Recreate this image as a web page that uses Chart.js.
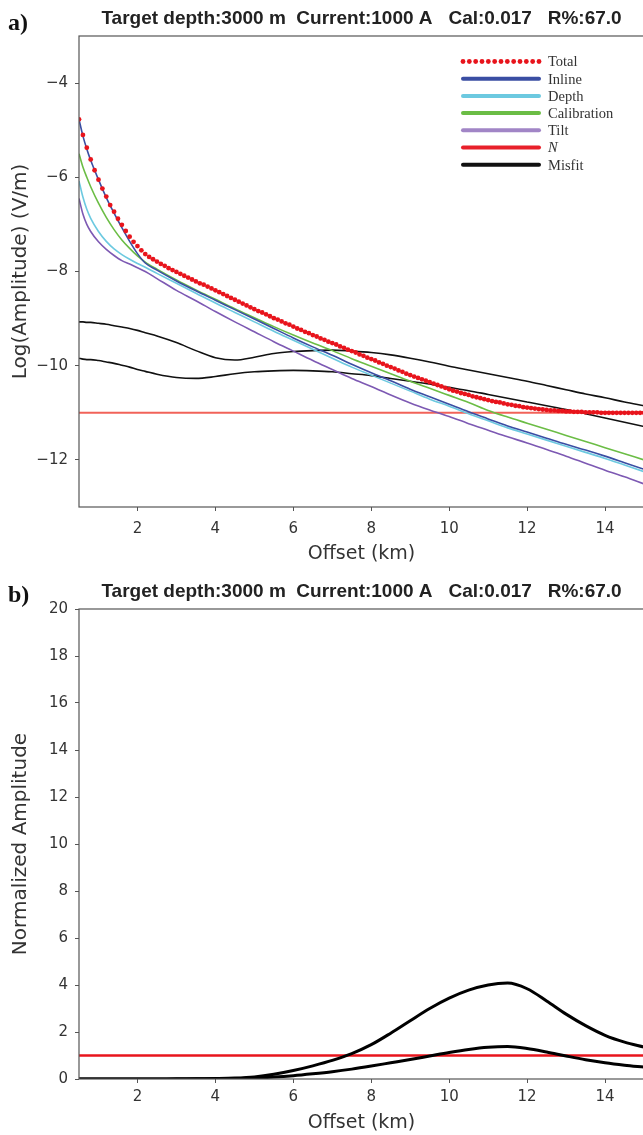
<!DOCTYPE html>
<html>
<head>
<meta charset="utf-8">
<script src="https://cdn.jsdelivr.net/npm/chart.js@4.4.0/dist/chart.umd.min.js"></script>
<style>
  html, body { margin: 0; padding: 0; background: #fff; }
  body { width: 643px; height: 1135px; overflow: hidden; position: relative; }
  .panel { position: absolute; left: 0; }
  .tag { position: absolute; left: 8px; font: bold 24px/24px "Liberation Serif", serif; color: #111; }
</style>
</head>
<body>
<div class="panel" style="top:0"><canvas id="chartA" width="660" height="580"></canvas></div>
<div class="tag" style="top:10px">a)</div>
<div class="panel" style="top:580px"><canvas id="chartB" width="660" height="555"></canvas></div>
<div class="tag" style="top:582px">b)</div>
<script>
// titre commun
var heading = 'Target depth:3000 m  Current:1000 A   Cal:0.017   R%:67.0';

// grafico a) - log amplitude
var offsets = [0.5, 0.6, 0.7, 0.8, 1.0, 1.2, 1.4, 1.6, 1.8, 2.0, 2.2, 2.5, 3.0, 3.5, 4.0, 4.5, 5.0, 5.5, 6.0, 6.5,
  7.0, 7.5, 8.0, 8.5, 9.0, 9.5, 10.0, 10.5, 11.0, 11.5, 12.0, 12.5, 13.0, 13.5, 14.0, 14.5, 15.0];
var inline = [-4.77, -5.12, -5.40, -5.64, -6.05, -6.43, -6.76, -7.07, -7.36, -7.62, -7.82, -7.97, -8.20, -8.41, -8.61, -8.81, -9.01, -9.21, -9.41, -9.60,
  -9.78, -9.97, -10.15, -10.32, -10.50, -10.66, -10.82, -10.98, -11.13, -11.28, -11.41, -11.54, -11.67, -11.79, -11.92, -12.06, -12.20];
var depth = [-6.08, -6.42, -6.68, -6.87, -7.15, -7.36, -7.52, -7.64, -7.74, -7.83, -7.91, -8.04, -8.25, -8.46, -8.67, -8.87, -9.07, -9.27, -9.46, -9.65,
  -9.84, -10.03, -10.20, -10.37, -10.54, -10.71, -10.86, -11.02, -11.17, -11.32, -11.45, -11.58, -11.71, -11.84, -11.97, -12.11, -12.25];
var calibration = [-5.50, -5.78, -6.00, -6.20, -6.55, -6.85, -7.11, -7.33, -7.51, -7.67, -7.80, -7.95, -8.18, -8.39, -8.59, -8.79, -8.98, -9.17, -9.35, -9.52,
  -9.68, -9.85, -10.01, -10.17, -10.33, -10.48, -10.63, -10.78, -10.95, -11.09, -11.22, -11.35, -11.48, -11.61, -11.74, -11.87, -12.00];
var tilt = [-6.45, -6.78, -7.00, -7.15, -7.37, -7.53, -7.66, -7.77, -7.84, -7.92, -8.00, -8.15, -8.40, -8.62, -8.85, -9.07, -9.28, -9.49, -9.69, -9.89,
  -10.08, -10.27, -10.44, -10.62, -10.79, -10.94, -11.08, -11.23, -11.37, -11.51, -11.64, -11.78, -11.92, -12.07, -12.22, -12.36, -12.51];
var misfitUpper = [-9.07, -9.07, -9.08, -9.08, -9.10, -9.12, -9.15, -9.18, -9.21, -9.25, -9.30, -9.37, -9.51, -9.68, -9.83, -9.88, -9.82, -9.74, -9.70, -9.68,
  -9.67, -9.69, -9.72, -9.77, -9.84, -9.92, -10.01, -10.09, -10.17, -10.25, -10.33, -10.42, -10.51, -10.60, -10.68, -10.77, -10.85];
var misfitLower = [-9.84, -9.86, -9.87, -9.87, -9.89, -9.92, -9.95, -9.99, -10.03, -10.08, -10.12, -10.18, -10.25, -10.27, -10.23, -10.17, -10.13, -10.11, -10.10, -10.11,
  -10.13, -10.17, -10.21, -10.27, -10.33, -10.39, -10.46, -10.53, -10.61, -10.69, -10.77, -10.85, -10.93, -11.02, -11.11, -11.20, -11.29];
var noiseOffsets = [0.5, 15.0];
var noiseLevel = [-11, -11];

var totalOffsets = [
  0.5, 0.6, 0.7, 0.8, 0.9, 1.0, 1.1, 1.2, 1.3, 1.4, 1.5, 1.6, 1.7, 1.8, 1.9, 2.0, 2.1, 2.2, 2.3, 2.4,
  2.5, 2.6, 2.7, 2.8, 2.9, 3.0, 3.1, 3.2, 3.3, 3.4, 3.5, 3.6, 3.7, 3.8, 3.9, 4.0, 4.1, 4.2, 4.3, 4.4,
  4.5, 4.6, 4.7, 4.8, 4.9, 5.0, 5.1, 5.2, 5.3, 5.4, 5.5, 5.6, 5.7, 5.8, 5.9, 6.0, 6.1, 6.2, 6.3, 6.4,
  6.5, 6.6, 6.7, 6.8, 6.9, 7.0, 7.1, 7.2, 7.3, 7.4, 7.5, 7.6, 7.7, 7.8, 7.9, 8.0, 8.1, 8.2, 8.3, 8.4,
  8.5, 8.6, 8.7, 8.8, 8.9, 9.0, 9.1, 9.2, 9.3, 9.4, 9.5, 9.6, 9.7, 9.8, 9.9, 10.0, 10.1, 10.2, 10.3, 10.4,
  10.5, 10.6, 10.7, 10.8, 10.9, 11.0, 11.1, 11.2, 11.3, 11.4, 11.5, 11.6, 11.7, 11.8, 11.9, 12.0, 12.1, 12.2, 12.3, 12.4,
  12.5, 12.6, 12.7, 12.8, 12.9, 13.0, 13.1, 13.2, 13.3, 13.4, 13.5, 13.6, 13.7, 13.8, 13.9, 14.0, 14.1, 14.2, 14.3, 14.4,
  14.5, 14.6, 14.7, 14.8, 14.9, 15.0];
var total = [
  -4.77, -5.10, -5.37, -5.62, -5.85, -6.05, -6.24, -6.41, -6.59, -6.73, -6.88, -7.01, -7.14, -7.26, -7.37, -7.46, -7.55, -7.63, -7.69, -7.74,
  -7.79, -7.84, -7.88, -7.93, -7.97, -8.01, -8.05, -8.09, -8.13, -8.17, -8.21, -8.25, -8.28, -8.32, -8.36, -8.40, -8.44, -8.48, -8.52, -8.56,
  -8.60, -8.64, -8.68, -8.72, -8.76, -8.80, -8.84, -8.87, -8.91, -8.95, -8.99, -9.02, -9.06, -9.10, -9.13, -9.17, -9.21, -9.24, -9.28, -9.31,
  -9.35, -9.38, -9.42, -9.45, -9.49, -9.52, -9.55, -9.59, -9.62, -9.66, -9.69, -9.72, -9.76, -9.79, -9.83, -9.86, -9.89, -9.93, -9.96, -10.00,
  -10.03, -10.06, -10.10, -10.13, -10.17, -10.20, -10.23, -10.26, -10.29, -10.32, -10.35, -10.38, -10.41, -10.44, -10.47, -10.50, -10.53, -10.55, -10.58, -10.60,
  -10.62, -10.65, -10.67, -10.69, -10.71, -10.73, -10.75, -10.77, -10.78, -10.80, -10.82, -10.83, -10.85, -10.86, -10.88, -10.89, -10.90, -10.91, -10.92, -10.93,
  -10.94, -10.95, -10.95, -10.96, -10.96, -10.97, -10.97, -10.98, -10.98, -10.98, -10.99, -10.99, -10.99, -10.99, -11.00, -11.00, -11.00, -11.00, -11.00, -11.00,
  -11.00, -11.00, -11.00, -11.00, -11.00, -11.00];

var xTicks = [2, 4, 6, 8, 10, 12, 14];
var yTicksA = [-12, -10, -8, -6, -4];

// grafico b) - normalized amplitude
var offsetsB = [0.5, 1.0, 1.5, 2.0, 2.5, 3.0, 3.5, 4.0, 4.5, 5.0, 5.5, 6.0, 6.5, 7.0, 7.5,
  8.0, 8.5, 9.0, 9.5, 10.0, 10.5, 11.0, 11.5, 12.0, 12.5, 13.0, 13.5, 14.0, 14.5, 15.0];
var normUpper = [0.00, 0.00, 0.00, 0.00, 0.00, 0.01, 0.01, 0.02, 0.04, 0.09, 0.20, 0.36, 0.56, 0.79, 1.08,
  1.46, 1.95, 2.48, 3.00, 3.44, 3.78, 4.00, 4.08, 3.84, 3.32, 2.76, 2.27, 1.86, 1.57, 1.36];
var normLower = [0.00, 0.00, 0.00, 0.00, 0.00, 0.00, 0.01, 0.01, 0.02, 0.04, 0.08, 0.14, 0.22, 0.31, 0.42,
  0.55, 0.69, 0.83, 0.98, 1.13, 1.26, 1.35, 1.38, 1.30, 1.15, 0.98, 0.82, 0.69, 0.59, 0.51];
var normLevel = [1, 1];
var yTicksB = [0, 2, 4, 6, 8, 10, 12, 14, 16, 18, 20];

function pts(xs, ys) {
  return xs.map(function (x, i) { return { x: x, y: ys[i] }; });
}

function curve(label, xs, ys, color, width, extra) {
  var ds = {
    label: label,
    data: pts(xs, ys),
    borderColor: color,
    borderWidth: width,
    pointRadius: 0,
    cubicInterpolationMode: 'monotone',
    fill: false
  };
  return Object.assign(ds, extra || {});
}

// quadro à volta
var framePlugin = {
  id: 'frame',
  afterDraw: function (chart) {
    var a = chart.chartArea, ctx = chart.ctx;
    ctx.save();
    ctx.strokeStyle = '#555';
    ctx.lineWidth = 1.2;
    ctx.strokeRect(a.left, a.top, a.right - a.left, a.bottom - a.top);
    ctx.restore();
  }
};

var headingPlugin = {
  id: 'heading',
  afterDraw: function (chart, args, opts) {
    var a = chart.chartArea, ctx = chart.ctx;
    ctx.save();
    ctx.font = 'bold 19px "Liberation Sans", Arial, sans-serif';
    ctx.fillStyle = '#222';
    ctx.textAlign = 'center';
    ctx.textBaseline = 'middle';
    ctx.fillText(opts.text, (a.left + a.right) / 2, a.top - 17);
    ctx.restore();
  }
};

// legenda dentro do grafico
var innerLegend = {
  id: 'innerLegend',
  afterDraw: function (chart) {
    var a = chart.chartArea, ctx = chart.ctx;
    var x0 = a.right - 181, x1 = a.right - 105, tx = a.right - 96;
    var row = 0;
    ctx.save();
    chart.data.datasets.forEach(function (ds) {
      if (ds.inLegend === false) return;
      var y = a.top + 25.5 + row * 17.2;
      if (ds.showLine === false) {
        ctx.fillStyle = ds.pointBackgroundColor;
        for (var k = 0; k < 13; k++) {
          ctx.beginPath();
          ctx.arc(x0 + k * (x1 - x0) / 12, y, 2.4, 0, Math.PI * 2);
          ctx.fill();
        }
      } else {
        ctx.strokeStyle = ds.legendColor || ds.borderColor;
        ctx.lineWidth = 4;
        ctx.lineCap = 'round';
        ctx.beginPath();
        ctx.moveTo(x0, y);
        ctx.lineTo(x1, y);
        ctx.stroke();
      }
      ctx.fillStyle = '#333';
      ctx.font = (ds.italicLabel ? 'italic ' : '') + '14.5px "Liberation Serif", serif';
      ctx.textAlign = 'left';
      ctx.textBaseline = 'middle';
      ctx.fillText(ds.label, tx, y + 1);
      row++;
    });
    ctx.restore();
  }
};

function minus(v) {
  return String(v).replace('-', '\u2212');
}

function axes(cfg) {
  var tickFont = { family: 'DejaVu Sans', size: 15 };
  var grid = { drawOnChartArea: false, drawTicks: true, tickLength: 4, color: '#555', lineWidth: 1 };
  return {
    x: {
      type: 'linear', min: 0.5, max: 15,
      afterBuildTicks: function (s) { s.ticks = xTicks.map(function (v) { return { value: v }; }); },
      afterFit: function (s) { s.height = cfg.xHeight; },
      grid: grid,
      border: { display: false },
      ticks: { padding: cfg.xPad, color: '#333', font: tickFont, maxRotation: 0 },
      title: { display: true, text: 'Offset (km)', color: '#333', font: { family: 'DejaVu Sans', size: 19 },
        padding: { top: 0, bottom: cfg.xTitlePad } }
    },
    y: {
      type: 'linear', min: cfg.yMin, max: cfg.yMax,
      afterBuildTicks: function (s) { s.ticks = cfg.yTicks.map(function (v) { return { value: v }; }); },
      afterFit: function (s) { s.width = 79; },
      grid: grid,
      border: { display: false },
      ticks: { padding: 7, color: '#333', font: tickFont, callback: minus },
      title: { display: true, text: cfg.yTitle, color: '#333', font: { family: 'DejaVu Sans', size: 20 },
        padding: { top: 9, bottom: 0 } }
    }
  };
}

var chartA = new Chart(document.getElementById('chartA'), {
  type: 'line',
  data: {
    datasets: [
      {
        label: 'Total',
        data: pts(totalOffsets, total),
        showLine: false,
        pointRadius: 2.4,
        pointBorderWidth: 0,
        pointBackgroundColor: '#e8141c',
        borderColor: '#e8141c'
      },
      curve('Inline', offsets, inline, '#3a4ea3', 1.6),
      curve('Depth', offsets, depth, '#6cc9e0', 1.6),
      curve('Calibration', offsets, calibration, '#6bbd45', 1.6),
      curve('Tilt', offsets, tilt, '#7d59b3', 1.6, { legendColor: '#a185c6' }),
      curve('N', noiseOffsets, noiseLevel, 'rgba(238,70,60,0.85)', 2, { italicLabel: true, legendColor: '#e8202a' }),
      curve('Misfit', offsets, misfitUpper, '#111', 1.6),
      curve('Misfit', offsets, misfitLower, '#111', 1.6, { inLegend: false })
    ]
  },
  options: {
    responsive: false,
    animation: false,
    layout: { padding: { left: 0, top: 36, right: 16, bottom: 0 } },
    scales: axes({ xHeight: 73, xPad: 9, xTitlePad: 15, yMin: -13, yMax: -3, yTicks: yTicksA, yTitle: 'Log(Amplitude) (V/m)' }),
    plugins: {
      legend: { display: false },
      tooltip: { enabled: false },
      heading: { text: heading }
    }
  },
  plugins: [framePlugin, headingPlugin, innerLegend]
});

var chartB = new Chart(document.getElementById('chartB'), {
  type: 'line',
  data: {
    datasets: [
      curve('Misfit', offsetsB, normUpper, '#000', 3),
      curve('Misfit', offsetsB, normLower, '#000', 3),
      curve('N', noiseOffsets, normLevel, '#e8141c', 2.5)
    ]
  },
  options: {
    responsive: false,
    animation: false,
    layout: { padding: { left: 0, top: 29, right: 16, bottom: 0 } },
    scales: axes({ xHeight: 56, xPad: 5, xTitlePad: 1, yMin: 0, yMax: 20, yTicks: yTicksB, yTitle: 'Normalized Amplitude' }),
    plugins: {
      legend: { display: false },
      tooltip: { enabled: false },
      heading: { text: heading }
    }
  },
  plugins: [framePlugin, headingPlugin]
});
</script>
</body>
</html>
